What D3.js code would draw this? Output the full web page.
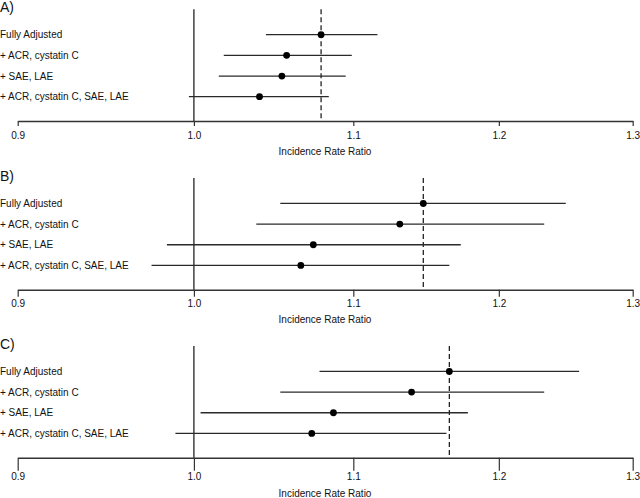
<!DOCTYPE html>
<html>
<head>
<meta charset="utf-8">
<script src="https://cdn.jsdelivr.net/npm/d3@7"></script>
<style>
  body { margin: 0; background: #fff; }
  svg { display: block; font-family: "Liberation Sans", Arial, sans-serif; }
</style>
</head>
<body>
<svg id="chart"></svg>
<script>
// Model labels (same in every panel)
var models = ["Fully Adjusted", "+ ACR, cystatin C", "+ SAE, LAE", "+ ACR, cystatin C, SAE, LAE"];
var panelNames = ["A)", "B)", "C)"];

// Panel A
var estA = [1.079, 1.057, 1.054, 1.040];
var lowA = [1.044, 1.018, 1.015, 0.997];
var highA = [1.116, 1.099, 1.095, 1.084];

// Panel B
var estB = [1.147, 1.131, 1.074, 1.066];
var lowB = [1.053, 1.038, 0.984, 0.975];
var highB = [1.249, 1.233, 1.173, 1.165];

// Panel C
var estC = [1.165, 1.139, 1.087, 1.073];
var lowC = [1.078, 1.053, 1.004, 0.989];
var highC = [1.259, 1.233, 1.178, 1.163];

var tickValues = [0.9, 1.0, 1.1, 1.2, 1.3];
var tickLabels = ["0.9", "1.0", "1.1", "1.2", "1.3"];
var axisTitle = "Incidence Rate Ratio";

var svgWidth = 640, svgHeight = 498;

var svg = d3.select('#chart')
    .attr('width', svgWidth)
    .attr('height', svgHeight);

// each panel is a separate figure stacked vertically, with slightly different axis spacing
var panels = [
    { name: panelNames[0], est: estA, low: lowA, high: highA, top: 9.3, tickSize: 5, tickPad: 6, titleY: 155.5 },
    { name: panelNames[1], est: estB, low: lowB, high: highB, top: 178, tickSize: 7, tickPad: 3, titleY: 323 },
    { name: panelNames[2], est: estC, low: lowC, high: highC, top: 346, tickSize: 13, tickPad: 2.5, titleY: 497 }
];

var x = d3.scaleLog()
    .domain([0.9, 1.3])
    .range([17.7, 632.7]);

panels.forEach(function(p) {
    var g = svg.append('g')
        .attr('transform', 'translate(0,' + p.top + ')');

    var axisY = 111.7;

    var y = d3.scalePoint()
        .domain(models)
        .range([25.4, 87.4]);

    var rows = models.map(function(m, i) {
        return { label: m, est: p.est[i], low: p.low[i], high: p.high[i] };
    });

    // panel letter
    g.append('text')
        .attr('x', 0)
        .attr('y', 2.7)
        .style('font-size', '14px')
        .style('fill', '#111')
        .text(p.name);

    // row labels
    g.selectAll('.rowlabel')
        .data(rows)
        .enter().append('text')
        .attr('class', 'rowlabel')
        .attr('x', 0)
        .attr('y', function(d) { return y(d.label); })
        .attr('dy', '0.35em')
        .style('font-size', '10px')
        .style('fill', '#111')
        .text(function(d) { return d.label; });

    // reference line at 1.0
    g.append('line')
        .attr('x1', x(1)).attr('x2', x(1))
        .attr('y1', 0).attr('y2', axisY)
        .attr('stroke', '#111')
        .attr('stroke-width', 1.2);

    // dashed line at the fully adjusted estimate
    g.append('line')
        .attr('x1', x(p.est[0])).attr('x2', x(p.est[0]))
        .attr('y1', 0).attr('y2', axisY)
        .attr('stroke', '#111')
        .attr('stroke-width', 1.2)
        .attr('stroke-dasharray', '5,3');

    // confidence intervals
    g.selectAll('.ci')
        .data(rows)
        .enter().append('line')
        .attr('class', 'ci')
        .attr('x1', function(d) { return x(d.low); })
        .attr('x2', function(d) { return x(d.high); })
        .attr('y1', function(d) { return y(d.label); })
        .attr('y2', function(d) { return y(d.label); })
        .attr('stroke', '#2a2a2a')
        .attr('stroke-width', 1.3);

    // point estimates
    g.selectAll('.pt')
        .data(rows)
        .enter().append('circle')
        .attr('class', 'pt')
        .attr('cx', function(d) { return x(d.est); })
        .attr('cy', function(d) { return y(d.label); })
        .attr('r', 3.4)
        .attr('fill', '#000');

    // x axis
    var axis = d3.axisBottom(x)
        .tickValues(tickValues)
        .tickFormat(function(d, i) { return tickLabels[i]; })
        .tickSize(p.tickSize)
        .tickPadding(p.tickPad)
        .tickSizeOuter(0);

    var ax = g.append('g')
        .attr('transform', 'translate(0,' + axisY + ')')
        .call(axis);

    ax.select('.domain')
        .attr('stroke', '#333')
        .attr('stroke-width', 1.5);
    ax.selectAll('.tick line')
        .attr('stroke', '#333')
        .attr('stroke-width', 1.2);
    ax.selectAll('.tick text')
        .style('font-size', '10px')
        .style('font-family', '"Liberation Sans", Arial, sans-serif')
        .attr('fill', '#111');

    // axis title
    g.append('text')
        .attr('x', 325)
        .attr('y', p.titleY - p.top)
        .attr('text-anchor', 'middle')
        .style('font-size', '10px')
        .style('fill', '#111')
        .text(axisTitle);
});
</script>
</body>
</html>
